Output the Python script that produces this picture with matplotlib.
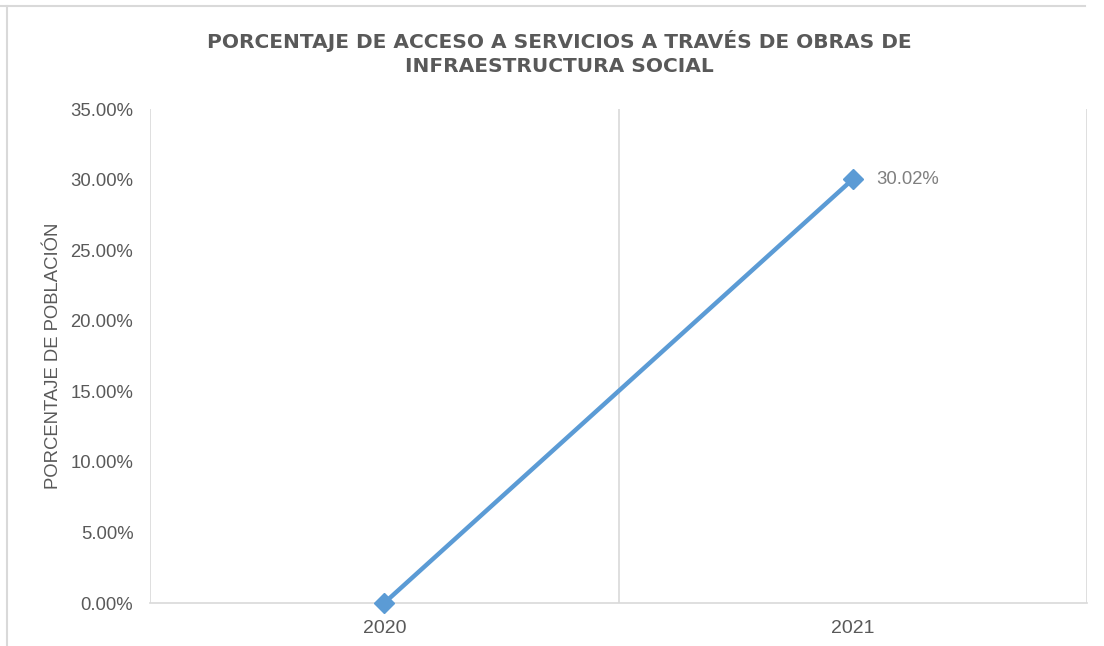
import matplotlib.pyplot as plt
from matplotlib.lines import Line2D
from matplotlib.ticker import FuncFormatter

# ---------- DATA ----------
years = ["2020", "2021"]
values = [0.0, 0.3002]
y_ticks = [0.0, 0.05, 0.10, 0.15, 0.20, 0.25, 0.30, 0.35]

TXT = "#595959"
GRID = "#d9d9d9"
BLUE = "#5b9bd5"

plt.rcParams['font.family'] = ['Liberation Sans', 'DejaVu Sans']

fig = plt.figure(figsize=(11.04, 6.46), dpi=100)
ax = fig.add_axes([150 / 1104, 1 - 603 / 646, (1087 - 150) / 1104, (603 - 109) / 646])

x = [i + 0.5 for i in range(len(years))]
ax.plot(x, values, color=BLUE, linewidth=3.2, marker="D", markersize=10,
        markerfacecolor=BLUE, markeredgecolor=BLUE, zorder=3, clip_on=False)

# data label on last point
ax.annotate(f"{values[-1] * 100:.2f}%", (x[-1], values[-1]), xytext=(17, 0),
            textcoords="offset points", ha="left", va="center",
            fontsize=13.3, color="#7f7f7f")

ax.set_xlim(0, len(years))
ax.set_ylim(y_ticks[0], y_ticks[-1])
ax.set_yticks(y_ticks)
ax.yaxis.set_major_formatter(FuncFormatter(lambda v, p: f"{v * 100:.2f}%"))
ax.set_xticks(x)
ax.set_xticklabels(years)

# category boundaries as vertical gridlines
for b in range(len(years) + 1):
    ax.axvline(b, color=GRID, linewidth=1.2, zorder=1)

for s in ["top", "left", "right"]:
    ax.spines[s].set_visible(False)
ax.spines["bottom"].set_color(GRID)
ax.spines["bottom"].set_linewidth(1.2)

ax.tick_params(axis="both", length=0, labelsize=13.3, labelcolor=TXT)
ax.tick_params(axis="y", pad=12)
ax.tick_params(axis="x", pad=12)
for lbl in ax.get_xticklabels():
    lbl.set_fontsize(14)

ax.set_ylabel("PORCENTAJE DE POBLACIÓN", fontsize=13.3, color=TXT)
ax.yaxis.set_label_coords((62 - 150) / (1087 - 150), 0.5)

fig.text(0.507, 1 - 41 / 646, "PORCENTAJE DE ACCESO A SERVICIOS A TRAVÉS DE OBRAS DE",
         ha="center", va="center", fontsize=14.5, fontweight="bold", color=TXT,
         family=["DejaVu Sans"])
fig.text(0.507, 1 - 66 / 646, "INFRAESTRUCTURA SOCIAL",
         ha="center", va="center", fontsize=14.5, fontweight="bold", color=TXT,
         family=["DejaVu Sans"])

# outer chart frame (left and top edges visible)
fig.add_artist(Line2D([7 / 1104, 7 / 1104], [0, 1 - 6 / 646], color=GRID, linewidth=1.5))
fig.add_artist(Line2D([0, 1085 / 1104], [1 - 6 / 646, 1 - 6 / 646], color=GRID, linewidth=1.5))

fig.savefig("out.png", dpi=100)
